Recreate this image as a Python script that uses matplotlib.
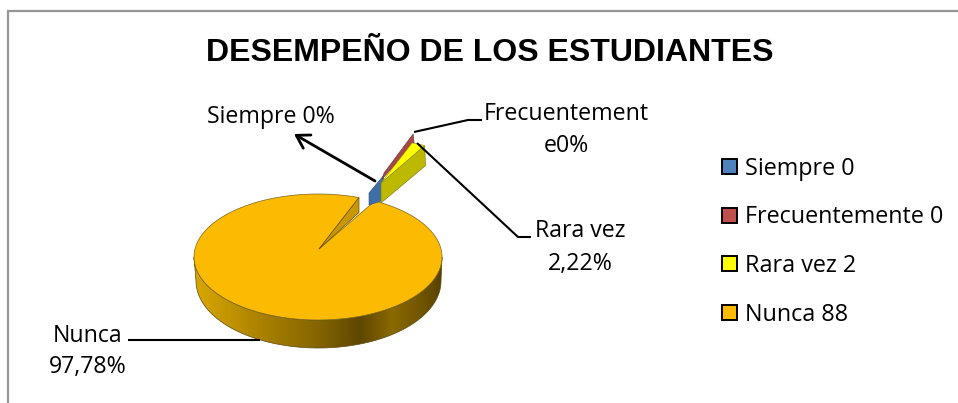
#!/usr/bin/env python3
"""Exploded 3D-look pie of student performance, drawn on a pixel-sized axes."""

import numpy as np
import matplotlib
matplotlib.use("Agg")
import matplotlib.pyplot as plt
from matplotlib.colors import LinearSegmentedColormap
from matplotlib.patches import Patch, Polygon

title = "DESEMPEÑO DE LOS ESTUDIANTES"
categories = ["Siempre", "Frecuentemente", "Rara vez", "Nunca"]
values = [0, 0, 2, 88]
colors = ["#4F81BD", "#C0504D", "#FFFF00", "#FCBA00"]

TEXT_FONT = "Open Sans"
W, H = 958, 403

# top ellipse of the pie, in pixels
cx, cy, rx, ry = 318, 257, 124, 63
apex = np.array([319.0, 249.0])
start_angle = 70.7


def rim(t, dy=0.0, cx_=cx, cy_=cy, rx_=rx, ry_=ry):
    t = np.radians(t)
    return np.column_stack([cx_ + rx_ * np.cos(t), cy_ + dy - ry_ * np.sin(t)])


def exploded(t, offset, scale=0.78):
    return apex + np.array(offset) + scale * (rim(t) - apex)


def pct(v):
    p = v / sum(values) * 100
    return "0%" if p == 0 else f"{p:.2f}%".replace(".", ",")


def main():
    fig = plt.figure(figsize=(W / 100, H / 100), dpi=100)
    ax = fig.add_axes([0, 0, 1, 1])
    ax.set_axis_off()

    # chart frame
    ax.plot([8.5, 8.5, W], [H, 11, 11], color="#969696", lw=1.6, solid_joinstyle="miter")

    ax.text(490, 53, title, family="Liberation Sans", weight="bold", fontsize=23,
            ha="center", va="center", color="black")

    # angles come from the values
    rara_sweep = values[2] / sum(values) * 360
    nunca_sweep = values[3] / sum(values) * 360
    rara_end = start_angle - rara_sweep
    nunca_t = np.linspace(rara_end, rara_end - nunca_sweep, 240)

    # side wall of the big slice with the shaded gradient
    wall_t = np.linspace(180, 360, 120)
    top_edge = rim(wall_t)
    low_edge = rim(wall_t[::-1], cx_=318.5, cy_=281, rx_=122.5, ry_=67)
    wall = Polygon(np.vstack([top_edge, low_edge]), closed=True, fc="none", ec="none", zorder=2)
    ax.add_patch(wall)
    shade = LinearSegmentedColormap.from_list("wall", [
        (0.00, "#D9A600"), (0.10, "#C89A00"), (0.30, "#A57D00"), (0.50, "#846500"),
        (0.67, "#5E4700"), (0.80, "#8A6900"), (0.93, "#6E5300"), (1.00, "#574200")])
    img = ax.imshow(np.linspace(0, 1, 256)[None, :], cmap=shade, extent=(194, 442, 350, 250),
                    aspect="auto", zorder=2)
    img.set_clip_path(wall)
    ax.add_patch(Polygon(np.vstack([top_edge, low_edge]), closed=True, fc="none",
                         ec="#5A4A10", lw=0.5, zorder=2.5))

    # big slice: top face and the notch wall showing behind it
    notch_top = rim(start_angle)[0]
    ax.add_patch(Polygon(np.vstack([apex, rim(nunca_t)]), closed=True,
                         fc=colors[3], ec="#7A6520", lw=0.5, zorder=3))
    ax.add_patch(Polygon([apex, notch_top, notch_top + [0, 15]], closed=True,
                         fc="#C99700", ec="#6B5200", lw=0.5, zorder=3.2))

    # exploded slices
    rara_off = (62, -66)
    rara_t = np.linspace(start_angle, rara_end, 12)
    rara_top = exploded(rara_t, rara_off)
    a_rara = apex + rara_off
    a_frec = apex + (65, -76)
    a_siem = apex + (50, -56)
    tip_frec = exploded(start_angle, (63, -75))[0]
    tip_rara = rara_top[0] + (2, 1)

    # zero slices only show as slivers
    ax.add_patch(Polygon([a_siem, a_siem + (15, -18), a_rara + (0, 18), a_siem + (0, 12)],
                         closed=True, fc="#3F6FA8", ec="#2F4F75", lw=0.4, zorder=4))
    ax.add_patch(Polygon([a_rara + (1, -4), a_frec, tip_frec, tip_rara], closed=True,
                         fc="#A34A48", ec="#6E3231", lw=0.4, zorder=4))
    ax.add_patch(Polygon(np.vstack([a_rara, rara_top[-1], rara_top[-1] + (1, 20), a_rara + (0, 20)]),
                         closed=True, fc="#BDB800", ec="#77740A", lw=0.4, zorder=4))
    ax.add_patch(Polygon(np.vstack([a_rara, rara_top]), closed=True,
                         fc=colors[2], ec="#8F8C10", lw=0.4, zorder=4.2))

    # leader lines
    line = dict(color="black", lw=1.5, zorder=5, solid_capstyle="butt")
    ax.annotate("", xy=(294, 134), xytext=(375, 181),
                arrowprops=dict(arrowstyle="->,head_length=0.9,head_width=0.55", color="black",
                                lw=2, shrinkA=0, shrinkB=0), zorder=5)
    ax.plot([414, 468, 482], [132, 120, 120], **line)
    ax.plot([417, 518, 531], [143, 237, 237], **line)
    ax.plot([128, 260], [340, 340], **line)

    # data labels
    lab = dict(family=TEXT_FONT, fontsize=16.7, ha="center", va="center", color="black", zorder=6)
    ax.text(271, 117, f"{categories[0]} {pct(values[0])}", **lab)
    ax.text(566, 114, categories[1][:-1], **lab)
    ax.text(566, 146, categories[1][-1] + pct(values[1]), **lab)
    ax.text(580, 231, categories[2], **lab)
    ax.text(580, 264, pct(values[2]), **lab)
    ax.text(88, 336, categories[3], **lab)
    ax.text(88, 367, pct(values[3]), **lab)

    # legend
    handles = [Patch(fc=c, ec="black", lw=1.4) for c in colors]
    labels = [f"{c} {v}" for c, v in zip(categories, values)]
    ax.legend(handles, labels, loc="upper left", bbox_to_anchor=(710.5, 145),
              bbox_transform=ax.transData, frameon=False, handlelength=0.62, handleheight=0.62,
              handletextpad=0.34, labelspacing=1.06, borderpad=0.5, borderaxespad=0,
              prop=dict(family=TEXT_FONT, size=16.8))

    ax.set_xlim(0, W)
    ax.set_ylim(H, 0)
    fig.savefig("out.png", dpi=100, facecolor="white")


if __name__ == "__main__":
    main()
